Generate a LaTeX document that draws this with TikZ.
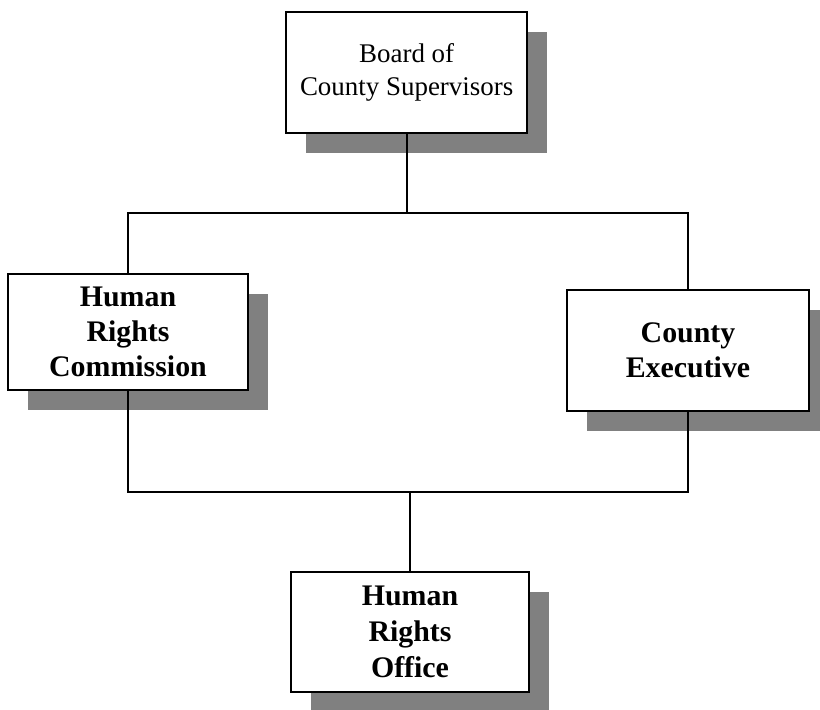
\documentclass[tikz,border=0pt]{standalone}
\usepackage{fontspec}
\setmainfont{Liberation Serif}
\usetikzlibrary{shadows}

\begin{document}
\begin{tikzpicture}
	\useasboundingbox (0,0) rectangle (24.6,21.27);
	\tikzstyle{every node}=[draw, line width=1.5pt, fill=white, align=center, inner sep=0pt,
		drop shadow={shadow xshift=.6cm, shadow yshift=-.6cm, fill=black!50, opacity=1}]
	\tikzstyle{link}=[line width=1.5pt]
	
	\node[minimum width=7.23cm, minimum height=3.63cm, font=\fontsize{23}{28}\selectfont] (board) at (12.2,19.1) {Board of\\County Supervisors};
	\node[minimum width=7.2cm, minimum height=3.48cm, font=\bfseries\fontsize{25.5}{30}\selectfont] (hrc) at (3.84,11.31) {Human\\Rights\\Commission};
	\node[minimum width=7.26cm, minimum height=3.63cm, font=\bfseries\fontsize{25.5}{30}\selectfont] (ce) at (20.64,10.75) {County\\Executive};
	\node[minimum width=7.14cm, minimum height=3.6cm, font=\bfseries\fontsize{25.5}{31}\selectfont] (hro) at (12.3,2.31) {Human\\Rights\\Office};
	
	\tikzstyle{every node}=[]
	
	\coordinate (upper) at (0,14.88);
	\coordinate (lower) at (0,6.51);
	\draw[link] (board.south) -- (board.south |- upper);
	\draw[link] (hrc.north) -- (hrc.north |- upper) -- (ce.north |- upper) -- (ce.north);
	\draw[link] (hrc.south) -- (hrc.south |- lower) -- (ce.south |- lower) -- (ce.south);
	\draw[link] (hro.north) -- (hro.north |- lower);
\end{tikzpicture}
\end{document}
